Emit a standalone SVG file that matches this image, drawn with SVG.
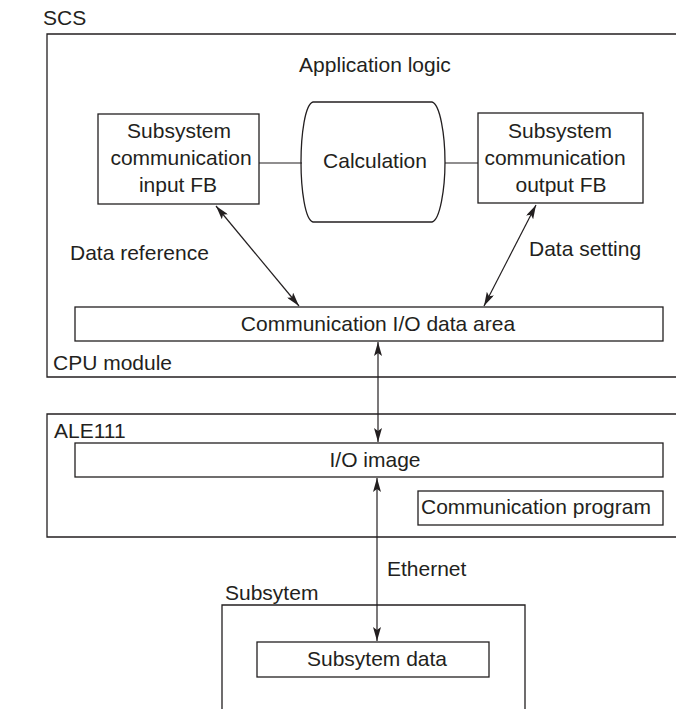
<svg xmlns="http://www.w3.org/2000/svg" width="676" height="709" viewBox="0 0 676 709">
<style>
  text { font-family: "Liberation Sans", Arial, Helvetica, sans-serif; font-size: 21px; fill: #231f20; }
  .c { text-anchor: middle; }
  .box { fill: none; stroke: #231f20; stroke-width: 1.3; }
  .ln { fill: none; stroke: #231f20; stroke-width: 1.2; }
</style>
<defs>
  <marker id="ah" markerUnits="userSpaceOnUse" markerWidth="14" markerHeight="8" refX="14" refY="4" orient="auto-start-reverse" viewBox="0 0 14 8">
    <path d="M0,0 L14,4 L0,8 L3,4 Z" fill="#231f20"/>
  </marker>
</defs>
<rect width="676" height="709" fill="#ffffff"/>

<g id="scs">
  <path class="box" d="M677,34 L47,34 L47,377 L677,377"/>
  <text x="43" y="25">SCS</text>
  <text x="375" y="72" class="c">Application logic</text>
  <text x="53" y="370">CPU module</text>
</g>

<g id="input-fb">
  <rect class="box" x="98" y="114" width="161" height="90"/>
  <text x="179" y="138" class="c">Subsystem</text>
  <text x="181" y="165" class="c">communication</text>
  <text x="178" y="192" class="c">input FB</text>
</g>

<g id="calculation">
  <path class="box" d="M313,102 L432,102 C440,104 445,135 445,162 C445,189 440,220 432,222 L313,222 C305,220 301,189 301,162 C301,135 305,104 313,102 Z"/>
  <text x="375" y="168" class="c">Calculation</text>
</g>

<g id="output-fb">
  <rect class="box" x="478" y="113" width="165" height="90"/>
  <text x="560" y="138" class="c">Subsystem</text>
  <text x="555" y="165" class="c">communication</text>
  <text x="561" y="192" class="c">output FB</text>
</g>

<g id="io-data-area">
  <rect class="box" x="75" y="307" width="588" height="34"/>
  <text x="378" y="331" class="c">Communication I/O data area</text>
</g>

<g id="ale111">
  <path class="box" d="M677,414 L47,414 L47,537 L677,537"/>
  <text x="54" y="438">ALE111</text>
</g>

<g id="io-image">
  <rect class="box" x="75" y="443" width="588" height="34"/>
  <text x="375" y="467" class="c">I/O image</text>
</g>

<g id="comm-program">
  <rect class="box" x="418" y="491" width="245" height="34"/>
  <text x="421" y="514">Communication program</text>
</g>

<g id="subsystem">
  <path class="box" d="M222,710 L222,605 L525,605 L525,710"/>
  <text x="225" y="600">Subsytem</text>
</g>

<g id="subsystem-data">
  <rect class="box" x="257" y="642" width="232" height="35"/>
  <text x="377" y="666" class="c">Subsytem data</text>
</g>

<g id="connectors">
  <line class="ln" x1="259" y1="163" x2="302" y2="163"/>
  <line class="ln" x1="445" y1="163" x2="478" y2="163"/>
  <line class="ln" x1="216" y1="206" x2="299" y2="306" marker-start="url(#ah)" marker-end="url(#ah)"/>
  <line class="ln" x1="536" y1="205" x2="484" y2="306" marker-start="url(#ah)" marker-end="url(#ah)"/>
  <line class="ln" x1="378" y1="342" x2="378" y2="442" marker-start="url(#ah)" marker-end="url(#ah)"/>
  <line class="ln" x1="377" y1="478" x2="377" y2="641" marker-start="url(#ah)" marker-end="url(#ah)"/>
  <text x="70" y="260">Data reference</text>
  <text x="529" y="256">Data setting</text>
  <text x="387" y="576">Ethernet</text>
</g>
</svg>
